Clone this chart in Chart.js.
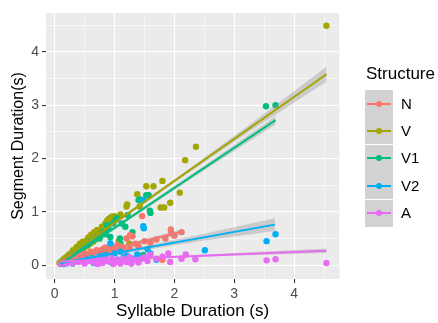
<!DOCTYPE html>
<html>
<head>
<meta charset="utf-8">
<script src="https://cdn.jsdelivr.net/npm/chart.js@4/dist/chart.umd.min.js"></script>
<style>
  html, body { margin: 0; padding: 0; background: #ffffff; }
  #wrap { position: relative; width: 438px; height: 323px; font-family: "Liberation Sans", Arial, sans-serif; }
  #c { position: absolute; left: 0; top: 0; }
  .lg-title { position: absolute; left: 366px; top: 64px; font-size: 17px; color: #000; line-height: 20px; }
  .lg-key { position: absolute; left: 365px; width: 28px; height: 27px; background: #D2D2D2; }
  .lg-line { position: absolute; left: 2px; top: 12.5px; width: 24px; height: 2px; }
  .lg-dot { position: absolute; left: 11px; top: 10.5px; width: 6px; height: 6px; border-radius: 50%; }
  .lg-label { position: absolute; left: 401px; font-size: 15px; color: #000; line-height: 18px; }
</style>
</head>
<body>
<div id="wrap">
  <canvas id="c" width="438" height="323"></canvas>
</div>
<script>
// ---------------- data ----------------
const seriesNames = ["N", "V", "V1", "V2", "A"];
const seriesColors = ["#F8766D", "#A3A500", "#00BF7D", "#00B0F6", "#E76BF3"];

const xTickLabels = [0, 1, 2, 3, 4];
const yTickLabels = [0, 1, 2, 3, 4];
const xMinorGrid = [0.5, 1.5, 2.5, 3.5, 4.5];
const yMinorGrid = [0.5, 1.5, 2.5, 3.5, 4.5];

const N_x = [0.12,0.20,0.25,0.30,0.35,0.40,0.45,0.50,0.55,0.60,0.65,0.70,0.75,0.80,0.85,0.90,0.95,1.00,1.05,1.10,1.15,1.20,1.26,1.30,1.35,1.40,1.46,1.50,1.60,1.70,1.80,1.85,1.94,1.95,2.00,2.12,0.62,0.78,0.92,1.08,1.25];
const N_y = [0.06,0.10,0.08,0.15,0.12,0.18,0.16,0.22,0.20,0.25,0.23,0.28,0.26,0.30,0.33,0.28,0.36,0.32,0.38,0.35,0.30,0.50,0.56,0.54,0.40,0.36,0.92,0.45,0.42,0.48,0.10,0.50,0.67,0.60,0.55,0.62,0.18,0.22,0.24,0.28,0.33];

const V_x = [0.08,0.10,0.12,0.14,0.15,0.17,0.18,0.20,0.21,0.23,0.24,0.26,0.27,0.29,0.30,0.32,0.33,0.35,0.36,0.38,0.40,0.41,0.43,0.45,0.46,0.48,0.50,0.52,0.53,0.55,0.57,0.58,0.60,0.62,0.63,0.65,0.67,0.68,0.70,0.72,0.74,0.76,0.78,0.80,0.82,0.86,0.88,0.90,0.93,0.95,0.97,1.00,1.04,1.07,1.10,1.20,1.21,1.25,1.38,1.42,1.53,1.65,1.77,1.83,1.80,1.93,2.09,2.18,2.36,4.54,
  0.22,0.28,0.34,0.39,0.44,0.49,0.54,0.59,0.64,0.69,0.73,0.77,0.83,0.31,0.37,0.42,0.47,0.56,0.61,0.66,0.71,0.79,0.84,0.91];
const V_y = [0.04,0.05,0.08,0.06,0.11,0.09,0.14,0.12,0.17,0.15,0.20,0.18,0.22,0.20,0.26,0.24,0.29,0.22,0.31,0.27,0.34,0.30,0.37,0.33,0.40,0.36,0.43,0.38,0.46,0.41,0.49,0.44,0.52,0.47,0.55,0.50,0.58,0.53,0.60,0.56,0.63,0.59,0.65,0.70,0.62,0.80,0.84,0.86,0.88,0.91,0.85,0.92,0.87,0.45,0.95,1.10,1.14,0.40,1.33,1.10,1.48,1.48,1.08,1.08,1.58,1.17,1.36,1.97,2.22,4.49,
  0.13,0.17,0.21,0.25,0.29,0.32,0.36,0.40,0.44,0.48,0.52,0.55,0.60,0.28,0.34,0.40,0.44,0.52,0.57,0.62,0.66,0.72,0.77,0.80];

const V1_x = [0.12,0.18,0.25,0.30,0.35,0.40,0.45,0.50,0.55,0.60,0.65,0.70,0.75,0.80,0.85,0.87,0.90,0.93,0.98,1.02,1.04,1.09,1.12,1.18,1.22,1.40,1.43,1.53,1.57,1.59,1.60,1.48,3.53,3.69,1.30,1.10,0.96];
const V1_y = [0.05,0.08,0.12,0.20,0.18,0.28,0.30,0.36,0.38,0.45,0.47,0.52,0.50,0.62,0.58,0.75,0.68,0.53,0.78,0.85,0.88,0.50,0.78,0.72,0.94,1.22,1.23,1.31,1.31,1.02,0.98,0.19,2.98,3.00,0.62,0.40,0.32];

const V2_x = [0.15,0.20,0.30,0.35,0.40,0.50,0.55,0.60,0.70,0.75,0.80,0.85,0.93,0.95,1.00,1.05,1.10,1.20,1.30,1.48,1.48,1.49,1.55,1.60,1.70,2.51,3.54,3.69,0.65,0.88,1.15,1.38];
const V2_y = [0.02,0.05,0.03,0.08,0.10,0.06,0.12,0.15,0.08,0.18,0.12,0.20,0.41,0.05,0.22,0.10,0.25,0.18,0.12,1.22,0.73,0.69,0.30,0.22,0.10,0.28,0.45,0.58,0.04,0.08,0.14,0.20];

const A_x = [0.10,0.15,0.20,0.25,0.30,0.35,0.40,0.45,0.50,0.55,0.60,0.65,0.70,0.75,0.80,0.85,0.90,0.95,1.00,1.05,1.10,1.15,1.20,1.25,1.35,1.40,1.45,1.50,1.55,1.60,1.70,1.80,1.90,1.93,2.12,2.19,2.35,3.54,3.69,4.54,0.72,0.98,1.28];
const A_y = [0.02,0.05,0.03,0.08,0.04,0.10,0.06,0.12,0.03,0.08,0.11,0.05,0.09,0.14,0.04,0.10,0.07,0.13,0.05,0.10,0.03,0.12,0.06,0.15,0.10,0.05,0.12,0.15,0.08,0.20,0.12,0.16,0.22,0.06,0.12,0.20,0.11,0.09,0.11,0.04,0.02,0.02,0.03];

// fitted lines (endpoints)
const N_fit_x = [0.10, 2.14],  N_fit_y = [0.07, 0.63];
const V_fit_x = [0.07, 4.54],  V_fit_y = [0.06, 3.58];
const V1_fit_x = [0.10, 3.69], V1_fit_y = [0.02, 2.72];
const V2_fit_x = [0.10, 3.68], V2_fit_y = [0.04, 0.76];
const A_fit_x = [0.10, 4.54],  A_fit_y = [0.07, 0.27];

// confidence bands (upper / lower)
const N_band_x = [0.10, 1.00, 2.14], N_band_hi = [0.10, 0.34, 0.68], N_band_lo = [0.04, 0.30, 0.58];
const V_band_x = [0.07, 1.00, 2.20, 3.30, 4.54], V_band_hi = [0.10, 0.82, 1.77, 2.67, 3.72], V_band_lo = [0.02, 0.76, 1.70, 2.54, 3.44];
const V1_band_x = [0.10, 1.00, 2.50, 3.69], V1_band_hi = [0.06, 0.73, 1.87, 2.80], V1_band_lo = [-0.02, 0.67, 1.78, 2.64];
const V2_band_x = [0.10, 1.00, 2.50, 3.68], V2_band_hi = [0.07, 0.25, 0.59, 0.88], V2_band_lo = [0.01, 0.19, 0.46, 0.64];
const A_band_x = [0.10, 1.00, 2.50, 4.54], A_band_hi = [0.09, 0.125, 0.20, 0.31], A_band_lo = [0.05, 0.095, 0.16, 0.23];

// ---------------- build ----------------
const zip = (xs, ys) => xs.map((x, i) => ({ x: x, y: ys[i] }));
const pts = { N: [N_x, N_y], V: [V_x, V_y], V1: [V1_x, V1_y], V2: [V2_x, V2_y], A: [A_x, A_y] };
const fits = { N: [N_fit_x, N_fit_y], V: [V_fit_x, V_fit_y], V1: [V1_fit_x, V1_fit_y], V2: [V2_fit_x, V2_fit_y], A: [A_fit_x, A_fit_y] };
const bands = {
  N: [N_band_x, N_band_hi, N_band_lo], V: [V_band_x, V_band_hi, V_band_lo], V1: [V1_band_x, V1_band_hi, V1_band_lo],
  V2: [V2_band_x, V2_band_hi, V2_band_lo], A: [A_band_x, A_band_hi, A_band_lo]
};
const colorOf = name => seriesColors[seriesNames.indexOf(name)];
const BAND = "rgba(153,153,153,0.4)";

const datasets = [];
// smooth layer (A on top)
const smoothDrawOrder = ["A", "V2", "V1", "V", "N"]; // top first
smoothDrawOrder.forEach((name, k) => {
  const b = bands[name], f = fits[name];
  datasets.push({ label: name + " fit", data: zip(f[0], f[1]), showLine: true, borderColor: colorOf(name), borderWidth: 2, pointRadius: 0, fill: false, order: 1 + 2 * k });
  datasets.push({ label: name + " hi", data: zip(b[0], b[1]), showLine: true, borderWidth: 0, borderColor: "rgba(0,0,0,0)", pointRadius: 0, backgroundColor: BAND, fill: "+1", order: 2 + 2 * k });
  datasets.push({ label: name + " lo", data: zip(b[0], b[2]), showLine: true, borderWidth: 0, borderColor: "rgba(0,0,0,0)", pointRadius: 0, fill: false, order: 2 + 2 * k });
});
// point layer beneath
const pointDrawOrder = ["A", "V2", "N", "V1", "V"]; // top first
pointDrawOrder.forEach((name, k) => {
  const p = pts[name];
  datasets.push({ label: name, data: zip(p[0], p[1]), showLine: false, pointRadius: 3.2, pointHoverRadius: 3.2, pointBorderWidth: 0, backgroundColor: colorOf(name), borderColor: colorOf(name), order: 20 + k });
});

const panelBg = {
  id: "panelBg",
  beforeDraw(chart) {
    const a = chart.chartArea, ctx = chart.ctx;
    ctx.save();
    ctx.fillStyle = "#EBEBEB";
    ctx.fillRect(a.left, a.top, a.right - a.left, a.bottom - a.top);
    ctx.restore();
  }
};

const isMajor = v => Math.abs(v - Math.round(v)) < 1e-9;
function gridScale(ticksMajor, ticksMinor, min, max, title, titleFont, titlePadding, axisSize, horizontal) {
  return {
    type: "linear", min: min, max: max,
    afterBuildTicks(scale) {
      scale.ticks = ticksMajor.concat(ticksMinor).sort((a, b) => a - b).map(v => ({ value: v }));
    },
    afterFit(scale) { if (horizontal) scale.height = axisSize; else scale.width = axisSize; },
    border: { display: false },
    grid: {
      drawOnChartArea: true, drawTicks: true, tickLength: 4,
      color: ctx => "#FFFFFF",
      lineWidth: ctx => (ctx.tick && isMajor(ctx.tick.value)) ? 1.1 : 0.55,
      tickColor: ctx => (ctx.tick && isMajor(ctx.tick.value)) ? "#333333" : "rgba(0,0,0,0)",
      tickWidth: 1.1
    },
    ticks: {
      autoSkip: false, maxRotation: 0, padding: 3, color: "#4D4D4D",
      font: { family: "'Liberation Sans', Arial, sans-serif", size: 14 },
      callback: v => isMajor(v) ? String(v) : ""
    },
    title: { display: true, text: title, color: "#000000", font: { family: "'Liberation Sans', Arial, sans-serif", size: titleFont }, padding: titlePadding }
  };
}

new Chart(document.getElementById("c"), {
  type: "scatter",
  data: { datasets: datasets },
  options: {
    responsive: false, animation: false,
    layout: { padding: { left: 0, top: 13, right: 98.7, bottom: 0 } },
    plugins: { legend: { display: false }, tooltip: { enabled: false } },
    scales: {
      x: gridScale(xTickLabels, xMinorGrid, -0.145, 4.755, "Syllable Duration (s)", 17, { top: 0, bottom: 1 }, 44, true),
      y: gridScale(yTickLabels, yMinorGrid, -0.26, 4.73, "Segment Duration(s)", 16, { top: 9, bottom: 0 }, 46, false)
    }
  },
  plugins: [panelBg]
});

// ---------------- legend (HTML) ----------------
const wrap = document.getElementById("wrap");
const t = document.createElement("div");
t.className = "lg-title"; t.textContent = "Structure"; wrap.appendChild(t);
seriesNames.forEach((name, i) => {
  const top = 90 + i * 27.4;
  const key = document.createElement("div");
  key.className = "lg-key"; key.style.top = top + "px";
  const ln = document.createElement("div"); ln.className = "lg-line"; ln.style.background = seriesColors[i];
  const dot = document.createElement("div"); dot.className = "lg-dot"; dot.style.background = seriesColors[i];
  key.appendChild(ln); key.appendChild(dot); wrap.appendChild(key);
  const lab = document.createElement("div");
  lab.className = "lg-label"; lab.textContent = name; lab.style.top = (top + 4.5) + "px";
  wrap.appendChild(lab);
});
</script>
</body>
</html>
